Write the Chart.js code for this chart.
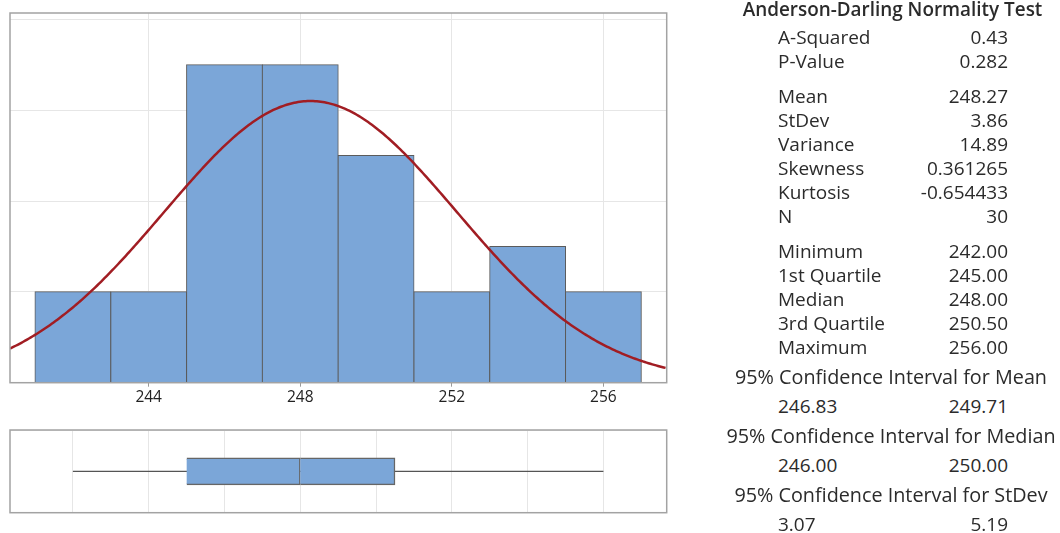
<!DOCTYPE html>
<html>
<head>
<meta charset="utf-8">
<script src="https://cdn.jsdelivr.net/npm/chart.js@4.4.1/dist/chart.umd.min.js"></script>
<style>
  body { margin: 0; background: #fff; }
  #wrap { position: relative; width: 1060px; height: 533px; overflow: hidden;
          font-family: 'Open Sans', 'Noto Sans', sans-serif; color: #2b2b2b; }
  #wrap canvas { position: absolute; left: 0; }
  .t { position: absolute; white-space: nowrap; font-size: 19px; line-height: 24px; }
  .h { font-weight: 600; font-size: 18.9px; }
  .ci { font-size: 19.8px; }
</style>
</head>
<body>
<div id="wrap">
  <canvas id="hist" width="680" height="410" style="top:0"></canvas>
  <canvas id="box" width="680" height="100" style="top:420px"></canvas>
  <div id="stats"></div>
</div>
<script>
// Histogram classes (width 2) and their frequencies
const BIN_CENTERS = [242, 244, 246, 248, 250, 252, 254, 256];
const BIN_COUNTS  = [2, 2, 7, 7, 5, 2, 3, 2];
const BIN_WIDTH   = 2;

// Axis ranges and tick / grid positions
const X_MIN = 240.34;
const X_MAX = 257.67;
const Y_MAX = 8.14;
const X_TICKS  = [244, 248, 252, 256];
const Y_GRID   = [0, 2, 4, 6, 8];
const BOX_GRID = [242, 244, 246, 248, 250, 252, 254, 256];

// Summary statistics
const N        = 30;
const MEAN     = 248.27;
const STDEV    = 3.86;
const VARIANCE = 14.89;
const SKEWNESS = '0.361265';
const KURTOSIS = '-0.654433';
const A_SQUARED = '0.43';
const P_VALUE   = '0.282';
const MINIMUM = 242.0;
const Q1      = 245.0;
const MEDIAN  = 248.0;
const Q3      = 250.5;
const MAXIMUM = 256.0;
const CI_TITLES = ['95% Confidence Interval for Mean',
                   '95% Confidence Interval for Median',
                   '95% Confidence Interval for StDev'];
const CI_LOW  = ['246.83', '246.00', '3.07'];
const CI_HIGH = ['249.71', '250.00', '5.19'];

const BLUE = '#7ba6d8';
const EDGE = '#5b5b5b';
const GRID = '#e6e6e6';

// Fitted normal density, scaled to counts (N * class width)
const fitted = [];
for (let i = 0; ; i++) {
  const x = X_MIN + i * 0.05;
  if (x > X_MAX + 1e-9) break;
  const z = (x - MEAN) / STDEV;
  fitted.push({ x, y: N * BIN_WIDTH * Math.exp(-0.5 * z * z) / (STDEV * Math.sqrt(2 * Math.PI)) });
}

// Grey frame round the plotting area
const framePlugin = {
  id: 'frame',
  afterDraw(chart) {
    const { ctx, chartArea: a } = chart;
    ctx.save();
    ctx.strokeStyle = '#a3a3a3';
    ctx.lineWidth = 1.5;
    ctx.strokeRect(a.left, a.top, a.right - a.left, a.bottom - a.top);
    ctx.restore();
  }
};

const hiddenY = (gridValues, min, max) => ({
  type: 'linear', min, max, offset: false,
  afterBuildTicks: s => { s.ticks = gridValues.map(v => ({ value: v })); },
  afterFit: s => { s.width = 0; },
  grid: { color: GRID, lineWidth: 1, drawTicks: false },
  border: { display: false },
  ticks: { display: false }
});

new Chart(document.getElementById('hist'), {
  type: 'bar',
  data: {
    datasets: [
      {
        type: 'line',
        data: fitted,
        borderColor: '#a11d23',
        borderWidth: 2.5,
        pointRadius: 0,
        tension: 0,
        order: 0
      },
      {
        type: 'bar',
        data: BIN_CENTERS.map((c, i) => ({ x: c, y: BIN_COUNTS[i] })),
        backgroundColor: BLUE,
        borderColor: EDGE,
        borderWidth: 1,
        inflateAmount: 0.5,
        barPercentage: 1,
        categoryPercentage: 1,
        order: 1
      }
    ]
  },
  options: {
    responsive: false,
    animation: false,
    events: [],
    layout: { padding: { left: 10, top: 13, right: 13.3, bottom: 0 } },
    plugins: { legend: { display: false }, tooltip: { enabled: false } },
    scales: {
      x: {
        type: 'linear', min: X_MIN, max: X_MAX, offset: false,
        afterBuildTicks: s => { s.ticks = X_TICKS.map(v => ({ value: v })); },
        afterFit: s => { s.height = 27.3; },
        grid: { offset: false, color: GRID, lineWidth: 1, tickLength: 4, tickColor: '#9a9a9a' },
        border: { display: false },
        ticks: { padding: 2, color: '#222', autoSkip: false, maxRotation: 0,
                 font: { family: 'Open Sans', size: 15.5 } }
      },
      y: hiddenY(Y_GRID, 0, Y_MAX)
    }
  },
  plugins: [framePlugin]
});

new Chart(document.getElementById('box'), {
  type: 'bar',
  data: {
    datasets: [
      {
        type: 'line',
        data: [{ x: MINIMUM, y: 0 }, { x: MAXIMUM, y: 0 }],
        borderColor: '#555',
        borderWidth: 1.3,
        pointRadius: 0,
        order: 2
      },
      {
        type: 'bar',
        data: [{ x: [Q1, MEDIAN], y: 0 }, { x: [MEDIAN, Q3], y: 0 }],
        backgroundColor: BLUE,
        borderColor: '#666',
        borderWidth: 1.5,
        barThickness: 27,
        order: 1
      }
    ]
  },
  options: {
    indexAxis: 'y',
    responsive: false,
    animation: false,
    events: [],
    layout: { padding: { left: 10, top: 10, right: 13.3, bottom: 7.3 } },
    plugins: { legend: { display: false }, tooltip: { enabled: false } },
    scales: {
      x: {
        type: 'linear', min: X_MIN, max: X_MAX, offset: false,
        afterBuildTicks: s => { s.ticks = BOX_GRID.map(v => ({ value: v })); },
        afterFit: s => { s.height = 0; },
        grid: { offset: false, color: GRID, lineWidth: 1, drawTicks: false },
        border: { display: false },
        ticks: { display: false }
      },
      y: hiddenY([0], -1, 1)
    }
  },
  plugins: [framePlugin]
});

// Statistics panel
const panel = document.getElementById('stats');
function put(text, x, y, align, cls) {
  const d = document.createElement('div');
  d.className = 't' + (cls ? ' ' + cls : '');
  d.textContent = text;
  d.style.top = (y - 12.5) + 'px';
  if (align === 'left') {
    d.style.left = x + 'px';
  } else if (align === 'right') {
    d.style.right = (1060 - x) + 'px';
  } else {
    d.style.left = (x - 250) + 'px';
    d.style.width = '500px';
    d.style.textAlign = 'center';
  }
  panel.appendChild(d);
}

const LABEL_X = 778, VALUE_X = 1008, CENTER_X = 891, ROW = 24;
put('Anderson-Darling Normality Test', 892.5, 9, 'center', 'h');

const groups = [
  { y: 37,    labels: ['A-Squared', 'P-Value'], values: [A_SQUARED, P_VALUE] },
  { y: 96.5,  labels: ['Mean', 'StDev', 'Variance', 'Skewness', 'Kurtosis', 'N'],
              values: [MEAN.toFixed(2), STDEV.toFixed(2), VARIANCE.toFixed(2), SKEWNESS, KURTOSIS, String(N)] },
  { y: 251.5, labels: ['Minimum', '1st Quartile', 'Median', '3rd Quartile', 'Maximum'],
              values: [MINIMUM, Q1, MEDIAN, Q3, MAXIMUM].map(v => v.toFixed(2)) }
];
groups.forEach(g => {
  g.labels.forEach((lab, i) => {
    put(lab, LABEL_X, g.y + i * ROW, 'left');
    put(g.values[i], VALUE_X, g.y + i * ROW, 'right');
  });
});

CI_TITLES.forEach((title, k) => {
  put(title, CENTER_X, 377 + k * 59.25, 'center', 'ci');
  put(CI_LOW[k], LABEL_X, 406.5 + k * 59, 'left');
  put(CI_HIGH[k], VALUE_X, 406.5 + k * 59, 'right');
});
</script>
</body>
</html>
